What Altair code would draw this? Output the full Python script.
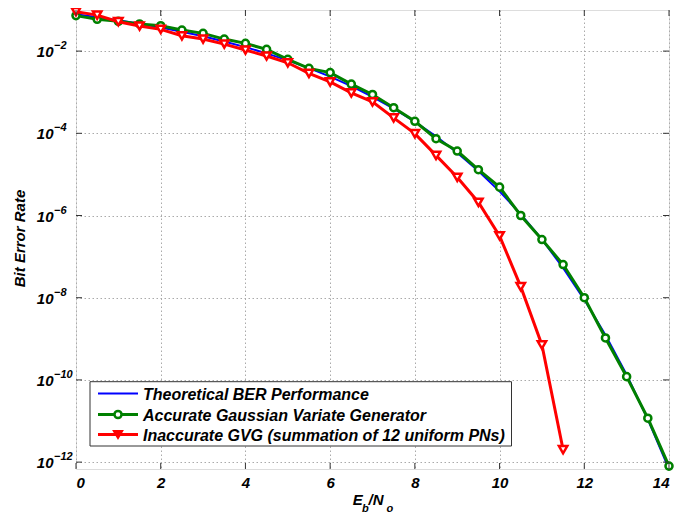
import altair as alt
import pandas as pd

# ---------------- data ----------------
ebno = [0, 0.5, 1, 1.5, 2, 2.5, 3, 3.5, 4, 4.5, 5, 5.5, 6, 6.5, 7, 7.5,
        8, 8.5, 9, 9.5, 10, 10.5, 11, 11.5, 12, 12.5, 13, 13.5, 14]
theory = [7.86e-2, 6.71e-2, 5.63e-2, 4.64e-2, 3.75e-2, 2.97e-2, 2.29e-2, 1.72e-2,
          1.25e-2, 8.8e-3, 5.95e-3, 3.86e-3, 2.39e-3, 1.40e-3, 7.73e-4, 3.98e-4,
          1.91e-4, 8.4e-5, 3.36e-5, 1.21e-5, 3.87e-6, 1.08e-6, 2.61e-7, 5.3e-8,
          9.0e-9, 1.23e-9, 1.33e-10, 1.1e-11, 6.8e-13]
accurate = [7.3e-2, 5.93e-2, 5.3e-2, 4.57e-2, 4.15e-2, 3.25e-2, 2.7e-2, 1.96e-2,
            1.54e-2, 1.1e-2, 6.3e-3, 3.8e-3, 3.0e-3, 1.57e-3, 8.8e-4, 4.2e-4,
            1.96e-4, 7.4e-5, 3.7e-5, 1.3e-5, 4.9e-6, 1.0e-6, 2.6e-7, 6.4e-8,
            1.0e-8, 1.05e-9, 1.2e-10, 1.17e-11, 8.0e-13]
ebno_red = [0, 0.5, 1, 1.5, 2, 2.5, 3, 3.5, 4, 4.5, 5, 5.5, 6, 6.5, 7, 7.5,
            8, 8.5, 9, 9.5, 10, 10.5, 11, 11.5]
inaccurate = [9.1e-2, 7.5e-2, 5.2e-2, 4.07e-2, 3.38e-2, 2.36e-2, 1.96e-2, 1.48e-2,
              1.06e-2, 7.6e-3, 5.2e-3, 2.86e-3, 1.78e-3, 9.6e-4, 5.8e-4, 2.37e-4,
              9.8e-5, 2.9e-5, 8.5e-6, 2.1e-6, 3.2e-7, 1.86e-8, 7.1e-10, 2.0e-12]

series_names = ["Theoretical BER Performance",
                "Accurate Gaussian Variate Generator",
                "Inaccurate GVG (summation of 12 uniform PNs)"]
x_ticks = [0, 2, 4, 6, 8, 10, 12, 14]
y_tick_exp = [-2, -4, -6, -8, -10, -12]
x_title_parts = ["E", "b", "/N", "o"]
y_title = "Bit Error Rate"

# ---------------- styling ----------------
W, H = 593, 459
FONT = "Liberation Sans"
BLUE, GREEN, RED = "#0000ff", "#008000", "#ff0000"
FRAME = "#333333"

df_t = pd.DataFrame({"x": ebno, "y": theory})
df_a = pd.DataFrame({"x": ebno, "y": accurate})
df_r = pd.DataFrame({"x": ebno_red, "y": inaccurate})
y_tick_vals = [10.0 ** e for e in y_tick_exp]
df_xt = pd.DataFrame({"x": x_ticks})
df_yt = pd.DataFrame({"y": y_tick_vals,
                      "base": ["10"] * len(y_tick_exp),
                      "sup": ["\u2212" + str(abs(e)) for e in y_tick_exp]})

xs = alt.Scale(domain=[0, 14], nice=False, zero=False)
ys = alt.Scale(type="log", domain=[6.8e-13, 0.1], nice=False)

x_enc = alt.X("x:Q", scale=xs, title=None,
              axis=alt.Axis(values=x_ticks, grid=True, gridDash=[1.5, 2.5],
                            gridColor="#aaaaaa", gridWidth=1, domain=False,
                            ticks=False, labelFont=FONT, labelFontSize=15,
                            labelFontWeight="bold", labelFontStyle="italic",
                            labelColor="black", labelPadding=6, format="d",
                            title=None))
y_enc = alt.Y("y:Q", scale=ys, title=None,
              axis=alt.Axis(values=y_tick_vals, grid=True, gridDash=[1.5, 2.5],
                            gridColor="#aaaaaa", gridWidth=1, domain=False,
                            ticks=False, labels=False, title=None))

one = pd.DataFrame({"k": [0]})

blue_line = alt.Chart(df_t).mark_line(color=BLUE, strokeWidth=2, clip=False).encode(x=x_enc, y=y_enc)
green_line = alt.Chart(df_a).mark_line(color=GREEN, strokeWidth=3, clip=False).encode(x=x_enc, y=y_enc)
green_pts = alt.Chart(df_a).mark_point(shape="circle", filled=True, fill="white", stroke=GREEN,
                                       strokeWidth=2.5, size=50, opacity=1, clip=False).encode(x=x_enc, y=y_enc)
red_line = alt.Chart(df_r).mark_line(color=RED, strokeWidth=3, clip=False).encode(x=x_enc, y=y_enc)
red_pts = alt.Chart(df_r).mark_point(shape="triangle-down", filled=True, fill="white", stroke=RED,
                                     strokeWidth=2.5, size=70, opacity=1, clip=False).encode(x=x_enc, y=y_enc)

# inward ticks on all four sides
tk = dict(color=FRAME, strokeWidth=1)
t_bottom = alt.Chart(df_xt).mark_rule(**tk).encode(x=x_enc, y=alt.value(H), y2=alt.value(H - 6))
t_top = alt.Chart(df_xt).mark_rule(**tk).encode(x=x_enc, y=alt.value(0), y2=alt.value(6))
t_left = alt.Chart(df_yt).mark_rule(**tk).encode(y=y_enc, x=alt.value(0), x2=alt.value(6))
t_right = alt.Chart(df_yt).mark_rule(**tk).encode(y=y_enc, x=alt.value(W - 6), x2=alt.value(W))

# y tick labels 10^-n
txt = dict(font=FONT, fontWeight="bold", fontStyle="italic", color="black")
lab_base = alt.Chart(df_yt).mark_text(align="right", baseline="alphabetic", dy=6, fontSize=15, **txt).encode(
    y=y_enc, x=alt.value(-22.5), text="base:N")
lab_sup = alt.Chart(df_yt).mark_text(align="left", baseline="alphabetic", dy=-2, fontSize=11, **txt).encode(
    y=y_enc, x=alt.value(-22), text="sup:N")

# axis titles
ytitle = alt.Chart(one).mark_text(angle=270, align="center", baseline="alphabetic", fontSize=15, **txt).encode(
    x=alt.value(-51), y=alt.value(H / 2 - 1), text=alt.value(y_title))
xt_pos = [(276.7, 495, 15), (286.0, 502, 11), (292.5, 495, 15), (310.5, 502, 11)]
xtitle = [alt.Chart(one).mark_text(align="left", baseline="alphabetic", fontSize=fs, **txt).encode(
    x=alt.value(px), y=alt.value(py), text=alt.value(s))
    for s, (px, py, fs) in zip(x_title_parts, xt_pos)]

# legend
leg_box = alt.Chart(one).mark_rect(fill="white", stroke=FRAME, strokeWidth=1).encode(
    x=alt.value(14), x2=alt.value(435.5), y=alt.value(371.7), y2=alt.value(436))
row_y = [383.5, 404.5, 424.5]
leg = [leg_box]
for name, color, sw, ry in zip(series_names, [BLUE, GREEN, RED], [2, 3, 3], row_y):
    leg.append(alt.Chart(one).mark_rule(color=color, strokeWidth=sw).encode(
        x=alt.value(22), x2=alt.value(62), y=alt.value(ry)))
    leg.append(alt.Chart(one).mark_text(align="left", baseline="alphabetic", fontSize=16, **txt).encode(
        x=alt.value(67), y=alt.value(ry + 6), text=alt.value(name)))
leg.append(alt.Chart(one).mark_point(shape="circle", filled=True, fill="white", stroke=GREEN,
                                     strokeWidth=2.5, size=50, opacity=1).encode(
    x=alt.value(42), y=alt.value(row_y[1])))
leg.append(alt.Chart(one).mark_point(shape="triangle-down", filled=True, fill=RED, stroke=RED,
                                     strokeWidth=2, size=70, opacity=1).encode(
    x=alt.value(42), y=alt.value(row_y[2])))

chart = alt.layer(
    blue_line, green_line, green_pts, red_line, red_pts,
    t_bottom, t_top, t_left, t_right,
    lab_base, lab_sup, ytitle, *xtitle, *leg
).properties(
    width=W, height=H,
    autosize=alt.AutoSizeParams(type="none"),
    padding={"left": 68, "top": 2, "right": 10, "bottom": 45},
).configure_view(stroke=FRAME, strokeWidth=1).configure(background="white")

chart.save("out.html", embed_options={"renderer": "svg", "actions": False})
